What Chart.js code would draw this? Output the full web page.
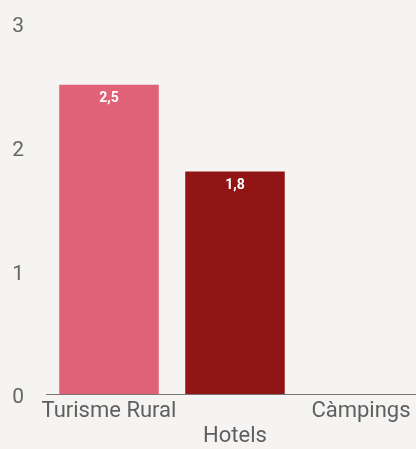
<!DOCTYPE html>
<html>
<head>
<meta charset="utf-8">
<script src="https://cdn.jsdelivr.net/npm/chart.js@4/dist/chart.umd.min.js"></script>
<style>
  html, body { margin: 0; padding: 0; background: #f5f4f2; overflow: hidden; }
  /* plot runs a little past the right edge, like the original */
  #wrap { width: 424px; height: 449px; position: relative; }
</style>
</head>
<body>
<div id="wrap"><canvas id="chart"></canvas></div>
<script>
  // data
  var CATEGORIES = ['Turisme Rural', 'Hotels', 'Càmpings'];
  // second label drops a line, as in the original (staggered labels)
  var TICK_LABELS = [['Turisme Rural'], ['', 'Hotels'], ['Càmpings']];
  var VALUES = [2.5, 1.8, null];
  var BAR_COLORS = ['#e06277', '#921515', '#c0c0c0'];
  var Y_TICKS = [0, 1, 2, 3];

  // white value labels at top of each bar
  var valueLabels = {
    id: 'valueLabels',
    afterDatasetsDraw: function (chart) {
      var ctx = chart.ctx;
      var meta = chart.getDatasetMeta(0);
      ctx.save();
      ctx.fillStyle = '#ffffff';
      ctx.font = 'bold 14px Roboto, sans-serif';
      ctx.textAlign = 'center';
      ctx.textBaseline = 'top';
      meta.data.forEach(function (bar, i) {
        var v = VALUES[i];
        if (v == null) return;
        ctx.fillText(String(v).replace('.', ','), bar.x, bar.y + 7);
      });
      ctx.restore();
    }
  };

  new Chart(document.getElementById('chart'), {
    type: 'bar',
    data: {
      labels: CATEGORIES,
      datasets: [{
        data: VALUES,
        backgroundColor: BAR_COLORS,
        borderWidth: 0,
        categoryPercentage: 0.79,
        barPercentage: 1.0
      }]
    },
    options: {
      responsive: true,
      maintainAspectRatio: false,
      animation: false,
      layout: { padding: { left: 12, right: 0, top: 23, bottom: 0 } },
      plugins: {
        legend: { display: false },
        tooltip: { enabled: false }
      },
      scales: {
        x: {
          grid: { display: false, drawTicks: false },
          border: { display: true, color: '#777777', width: 1 },
          afterFit: function (axis) { axis.height = 55; },
          ticks: {
            color: '#5f5f5f',
            font: { family: 'Roboto, sans-serif', size: 22, lineHeight: 1.14 },
            maxRotation: 0,
            autoSkip: false,
            padding: 5,
            callback: function (val, i) { return TICK_LABELS[i]; }
          }
        },
        y: {
          min: 0,
          max: 3,
          grid: { display: false, drawTicks: false },
          border: { display: false },
          afterFit: function (axis) {
            axis.width = 34;
            axis.paddingTop = 0;
            axis.paddingBottom = 0;
          },
          afterBuildTicks: function (axis) {
            axis.ticks = Y_TICKS.map(function (v) { return { value: v }; });
          },
          ticks: {
            color: '#666666',
            padding: 22,
            labelOffset: 4,
            font: { family: 'Roboto, sans-serif', size: 21 }
          }
        }
      }
    },
    plugins: [valueLabels]
  });
</script>
</body>
</html>
